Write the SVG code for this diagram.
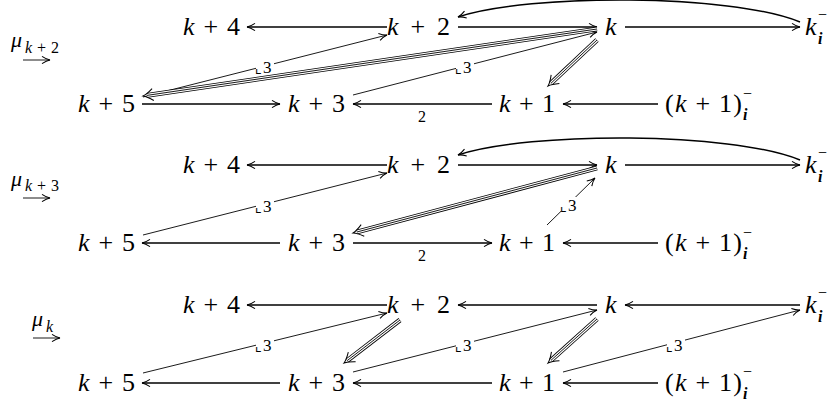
<svg xmlns="http://www.w3.org/2000/svg" width="832" height="405" viewBox="0 0 832 405">
<style>
.n{font-family:"Liberation Serif","DejaVu Serif",serif;font-size:26px;fill:#000}
.i{font-style:italic}
.s{font-family:"Liberation Serif","DejaVu Serif",serif;font-size:16px;fill:#000}
.bi{font-family:"Liberation Serif","DejaVu Serif",serif;font-size:16px;font-style:italic;font-weight:bold;fill:#000}
.mu{font-family:"Liberation Serif","DejaVu Serif",serif;font-size:22px;font-style:italic;fill:#000}
.sub{font-family:"Liberation Serif","DejaVu Serif",serif;font-size:16px;fill:#000}
.lb{font-family:"Liberation Serif","DejaVu Serif",serif;font-size:17px;fill:#000}
.cn{font-family:"DejaVu Sans",sans-serif;font-size:15px;fill:#000}
.h{fill:none;stroke:#000;stroke-width:1.5;marker-end:url(#ah)}
.d{fill:none;stroke:#000;stroke-width:0.9;marker-end:url(#ah)}
.t1{fill:none;stroke:#000;stroke-width:4.8}
.t2{fill:none;stroke:#fff;stroke-width:3.1}
.t3{fill:none;stroke:#000;stroke-width:0.9;marker-end:url(#th)}
.bg{fill:#fff}
</style>
<defs>
<marker id="ah" viewBox="-9 -5 10 10" markerWidth="10" markerHeight="10" refX="0" refY="0" orient="auto" markerUnits="userSpaceOnUse" overflow="visible">
<path d="M-8 -3.6 Q-3.5 -0.6 0 0 Q-3.5 0.6 -8 3.6" fill="none" stroke="#000" stroke-width="1.1"/>
</marker>
<marker id="th" viewBox="-12 -7 16 14" markerWidth="16" markerHeight="14" refX="-4" refY="0" orient="auto" markerUnits="userSpaceOnUse" overflow="visible">
<path d="M-10 -6 Q-4 -1.2 0 0 Q-4 1.2 -10 6" fill="none" stroke="#000" stroke-width="1"/>
</marker>
</defs>

<g id="connectors">
<path class="h" d="M387 27 L247 27"/>
<path class="h" d="M458 27 L597 27"/>
<path class="h" d="M625 27 L800 27"/>
<path class="h" d="M800 22 C730 -6.5 530 -6.5 458 17"/>
<path class="h" d="M142 104 L280 104"/>
<path class="h" d="M492 104 L353 104"/>
<path class="h" d="M658 104 L563 104"/>
<path class="d" d="M143 97 L387 35"/>
<path class="d" d="M353 95 L597 32"/>
<g><path class="t1" d="M597 29 L147 95.4"/><path class="t2" d="M597 29 L147 95.4"/><path class="t3" d="M597 29 L147 95.4"/></g>
<g><path class="t1" d="M597 40 L550.9 83.3"/><path class="t2" d="M597 40 L550.9 83.3"/><path class="t3" d="M597 40 L550.9 83.3"/></g>
<path class="h" d="M387 165 L247 165"/>
<path class="h" d="M458 165 L597 165"/>
<path class="h" d="M625 165 L800 165"/>
<path class="h" d="M800 160 C730 131.5 530 131.5 458 155"/>
<path class="h" d="M280 243 L142 243"/>
<path class="h" d="M353 243 L492 243"/>
<path class="h" d="M658 243 L563 243"/>
<path class="d" d="M143 235 L387 173"/>
<path class="d" d="M547 225 L595 178"/>
<g><path class="t1" d="M597 168 L356.9 232"/><path class="t2" d="M597 168 L356.9 232"/><path class="t3" d="M597 168 L356.9 232"/></g>
<path class="h" d="M387 305 L247 305"/>
<path class="h" d="M597 305 L458 305"/>
<path class="h" d="M800 305 L625 305"/>
<path class="h" d="M280 383 L142 383"/>
<path class="h" d="M492 383 L353 383"/>
<path class="h" d="M658 383 L563 383"/>
<path class="d" d="M143 373 L387 313"/>
<path class="d" d="M353 372 L597 310"/>
<path class="d" d="M563 372 L800 310"/>
<g><path class="t1" d="M400 320 L347.2 360.6"/><path class="t2" d="M400 320 L347.2 360.6"/><path class="t3" d="M400 320 L347.2 360.6"/></g>
<g><path class="t1" d="M597 319 L551 360.3"/><path class="t2" d="M597 319 L551 360.3"/><path class="t3" d="M597 319 L551 360.3"/></g>
<path class="d" d="M23 60 L50 60"/>
<path class="d" d="M23 198 L50 198"/>
<path class="d" d="M33 338 L60 338"/>
</g>

<g id="edge-labels">
<rect class="bg" x="256" y="59" width="18" height="14"/>
<text x="255" y="73"><tspan class="cn">⌞</tspan><tspan class="lb" x="263" y="73">3</tspan></text>
<rect class="bg" x="456" y="59" width="18" height="14"/>
<text x="455" y="73"><tspan class="cn">⌞</tspan><tspan class="lb" x="463" y="73">3</tspan></text>
<text class="s" x="418" y="122">2</text>
<rect class="bg" x="256" y="198" width="18" height="14"/>
<text x="255" y="212"><tspan class="cn">⌞</tspan><tspan class="lb" x="263" y="212">3</tspan></text>
<rect class="bg" x="561" y="197" width="18" height="14"/>
<text x="560" y="211"><tspan class="cn">⌞</tspan><tspan class="lb" x="568" y="211">3</tspan></text>
<text class="s" x="418" y="261">2</text>
<rect class="bg" x="256" y="337" width="18" height="14"/>
<text x="255" y="351"><tspan class="cn">⌞</tspan><tspan class="lb" x="263" y="351">3</tspan></text>
<rect class="bg" x="456" y="337" width="18" height="14"/>
<text x="455" y="351"><tspan class="cn">⌞</tspan><tspan class="lb" x="463" y="351">3</tspan></text>
<rect class="bg" x="667" y="337" width="18" height="14"/>
<text x="666" y="351"><tspan class="cn">⌞</tspan><tspan class="lb" x="674" y="351">3</tspan></text>
</g>

<g id="mutations">
<text class="mu" x="11" y="47">μ</text><text class="sub" x="25" y="53" textLength="34" lengthAdjust="spacing"><tspan class="i">k</tspan>+2</text>
<text class="mu" x="11" y="186">μ</text><text class="sub" x="25" y="191" textLength="34" lengthAdjust="spacing"><tspan class="i">k</tspan>+3</text>
<text class="mu" x="32" y="326">μ</text><text class="sub i" x="46" y="332">k</text>
</g>

<g id="r1-k4"><text class="n" x="183" y="35" textLength="57" lengthAdjust="spacing"><tspan class="i">k</tspan> + 4</text></g>
<g id="r1-k2"><text class="n" x="387" y="35" textLength="63" lengthAdjust="spacing"><tspan class="i">k</tspan> + 2</text></g>
<g id="r1-k"><text class="n i" x="605" y="35">k</text></g>
<g id="r1-ki"><text class="n i" x="805" y="35">k</text><text class="bi" x="818" y="44">i</text><text class="s" x="818" y="20">−</text></g>
<g id="r1-k5"><text class="n" x="78" y="112" textLength="57" lengthAdjust="spacing"><tspan class="i">k</tspan> + 5</text></g>
<g id="r1-k3"><text class="n" x="288" y="112" textLength="57" lengthAdjust="spacing"><tspan class="i">k</tspan> + 3</text></g>
<g id="r1-k1"><text class="n" x="499" y="112" textLength="56" lengthAdjust="spacing"><tspan class="i">k</tspan> + 1</text></g>
<g id="r1-k1i"><text class="n" x="665" y="112" textLength="77" lengthAdjust="spacing">(<tspan class="i">k</tspan> + 1)</text><text class="bi" x="743" y="120">i</text><text class="s" x="743" y="99">−</text></g>

<g id="r2-k4"><text class="n" x="183" y="173" textLength="57" lengthAdjust="spacing"><tspan class="i">k</tspan> + 4</text></g>
<g id="r2-k2"><text class="n" x="387" y="173" textLength="63" lengthAdjust="spacing"><tspan class="i">k</tspan> + 2</text></g>
<g id="r2-k"><text class="n i" x="605" y="173">k</text></g>
<g id="r2-ki"><text class="n i" x="805" y="173">k</text><text class="bi" x="818" y="182">i</text><text class="s" x="818" y="158">−</text></g>
<g id="r2-k5"><text class="n" x="78" y="251" textLength="57" lengthAdjust="spacing"><tspan class="i">k</tspan> + 5</text></g>
<g id="r2-k3"><text class="n" x="288" y="251" textLength="57" lengthAdjust="spacing"><tspan class="i">k</tspan> + 3</text></g>
<g id="r2-k1"><text class="n" x="499" y="251" textLength="56" lengthAdjust="spacing"><tspan class="i">k</tspan> + 1</text></g>
<g id="r2-k1i"><text class="n" x="665" y="251" textLength="77" lengthAdjust="spacing">(<tspan class="i">k</tspan> + 1)</text><text class="bi" x="743" y="259">i</text><text class="s" x="743" y="238">−</text></g>

<g id="r3-k4"><text class="n" x="183" y="313" textLength="57" lengthAdjust="spacing"><tspan class="i">k</tspan> + 4</text></g>
<g id="r3-k2"><text class="n" x="387" y="313" textLength="63" lengthAdjust="spacing"><tspan class="i">k</tspan> + 2</text></g>
<g id="r3-k"><text class="n i" x="605" y="313">k</text></g>
<g id="r3-ki"><text class="n i" x="805" y="313">k</text><text class="bi" x="818" y="322">i</text><text class="s" x="818" y="298">−</text></g>
<g id="r3-k5"><text class="n" x="78" y="391" textLength="57" lengthAdjust="spacing"><tspan class="i">k</tspan> + 5</text></g>
<g id="r3-k3"><text class="n" x="288" y="391" textLength="57" lengthAdjust="spacing"><tspan class="i">k</tspan> + 3</text></g>
<g id="r3-k1"><text class="n" x="499" y="391" textLength="56" lengthAdjust="spacing"><tspan class="i">k</tspan> + 1</text></g>
<g id="r3-k1i"><text class="n" x="665" y="391" textLength="77" lengthAdjust="spacing">(<tspan class="i">k</tspan> + 1)</text><text class="bi" x="743" y="399">i</text><text class="s" x="743" y="377">−</text></g>
</svg>
